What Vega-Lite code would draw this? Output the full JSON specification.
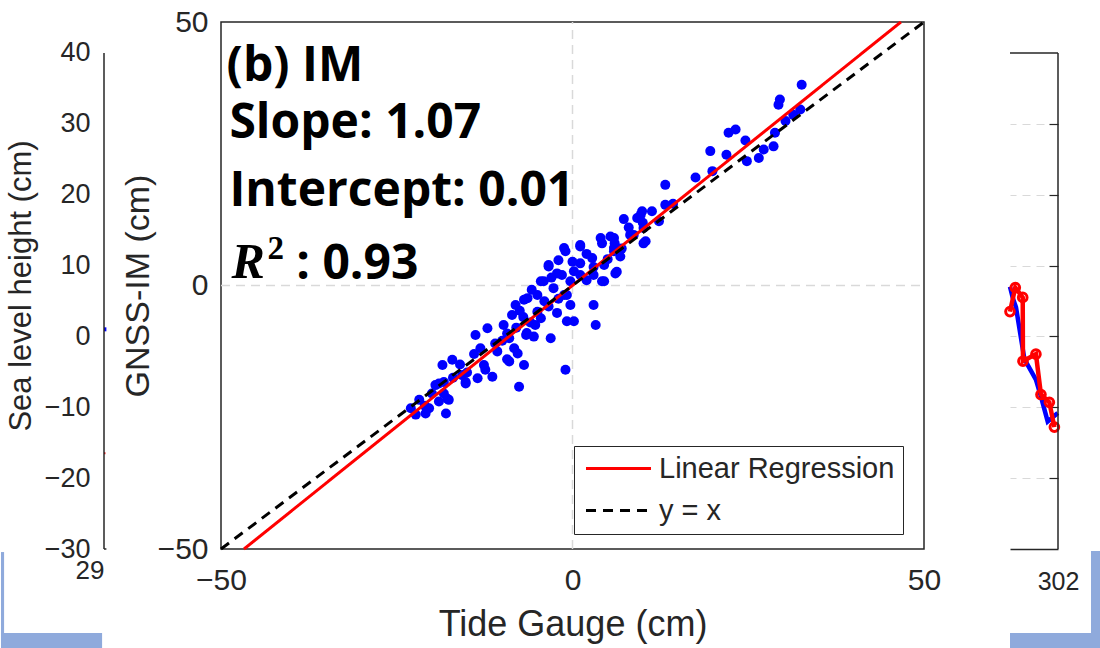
{
  "$schema": "https://vega.github.io/schema/vega-lite/v6.json",
  "background": "white",
  "padding": {"left": 0, "top": 6, "right": 0, "bottom": 0},
  "bounds": "flush",
  "spacing": 86,
  "config": {
    "view": {"stroke": null},
    "font": "Liberation Sans",
    "axis": {"labelFont": "Liberation Sans", "titleFont": "Liberation Sans", "labelColor": "#262626", "titleColor": "#262626", "titleFontWeight": "normal"}
  },
  "resolve": {"scale": {"x": "independent", "y": "independent", "color": "independent", "strokeDash": "independent"}},
  "hconcat": [
    {
      "width": 31,
      "height": 527,
      "data": {"values": [{}]},
      "layer": [
        {
          "data": {"values": [{"day": 298, "h": 1.0}, {"day": 298.01, "h": 1.0}]},
          "mark": {"type": "line", "color": "#0000ff", "strokeWidth": 4},
          "encoding": {
            "x": {"field": "day", "type": "quantitative", "scale": {"domain": [298, 298.13], "nice": false, "zero": false},
              "axis": {"values": [298], "labelExpr": "'29'", "labelAlign": "right", "labelFlush": false, "ticks": false, "domain": false, "grid": false, "labelFontSize": 26, "labelPadding": 8, "title": null}},
            "y": {"field": "h", "type": "quantitative", "scale": {"domain": [-30, 44.37], "nice": false, "zero": false},
              "axis": {"values": [-30, -20, -10, 0, 10, 20, 30, 40], "labelFontSize": 27, "labelPadding": 14, "ticks": false, "domain": false, "grid": false, "title": "Sea level height (cm)", "titleFontSize": 31, "titlePadding": 7}}
          }
        },
        {
          "data": {"values": [{"day": 298, "h": -16.5}, {"day": 298.006, "h": -16.5}]},
          "mark": {"type": "line", "color": "#ff0000", "strokeWidth": 2},
          "encoding": {"x": {"field": "day", "type": "quantitative"}, "y": {"field": "h", "type": "quantitative"}}
        },
        {
          "mark": {"type": "rule", "color": "#262626", "strokeWidth": 1.5},
          "encoding": {"x": {"datum": 298}, "y": {"datum": -30}, "y2": {"datum": 40}}
        },
        {
          "mark": {"type": "rule", "color": "#262626", "strokeWidth": 1.5},
          "encoding": {"x": {"datum": 298}, "x2": {"datum": 298.01}, "y": {"datum": -30}}
        },
        {
          "mark": {"type": "rect", "color": "#8faadc"},
          "encoding": {"x": {"datum": 297.568}, "x2": {"datum": 297.581}, "y": {"datum": -30.43}, "y2": {"datum": -41.86}}
        },
        {
          "mark": {"type": "rect", "color": "#8faadc"},
          "encoding": {"x": {"datum": 297.568}, "x2": {"datum": 297.992}, "y": {"datum": -41.86}, "y2": {"datum": -44.12}}
        }
      ]
    },
    {
      "width": 703,
      "height": 527,
      "view": {"stroke": "#262626", "strokeWidth": 1.5},
      "data": {"values": [{}]},
      "layer": [
        {
          "mark": {"type": "rule", "color": "#d9d9d9", "strokeWidth": 1.5, "strokeDash": [9, 6]},
          "encoding": {
            "x": {"datum": 0, "type": "quantitative", "scale": {"domain": [-50, 50], "nice": false},
              "axis": {"values": [-50, 0, 50], "labelFontSize": 30, "labelPadding": 16, "labelFlush": false, "ticks": false, "domain": false, "grid": false, "title": "Tide Gauge (cm)", "titleFontSize": 36, "titlePadding": 12}},
            "y": {"datum": -50, "type": "quantitative", "scale": {"domain": [-50, 50], "nice": false},
              "axis": {"values": [-50, 0, 50], "labelFontSize": 30, "labelPadding": 13, "ticks": false, "domain": false, "grid": false, "title": "GNSS-IM (cm)", "titleFontSize": 34, "titlePadding": 2}},
            "y2": {"datum": 50}
          }
        },
        {
          "mark": {"type": "rule", "color": "#d9d9d9", "strokeWidth": 1.5, "strokeDash": [9, 6]},
          "encoding": {"x": {"datum": -50}, "x2": {"datum": 50}, "y": {"datum": 0}}
        },
        {
          "data": {"values": [
            {"tg": 32.6, "im": 38.1}, {"tg": 29.5, "im": 35.3}, {"tg": 29.3, "im": 34.3}, {"tg": 32.4, "im": 33.4}, {"tg": 31.4, "im": 32.4},
            {"tg": 30.3, "im": 31.2}, {"tg": 28.8, "im": 29.0}, {"tg": 28.6, "im": 26.4}, {"tg": 27.2, "im": 25.8}, {"tg": 26.5, "im": 24.2},
            {"tg": 24.8, "im": 23.6}, {"tg": 24.6, "im": 27.5}, {"tg": 23.2, "im": 29.6}, {"tg": 22.2, "im": 29.0}, {"tg": 19.6, "im": 25.5},
            {"tg": 21.9, "im": 24.8}, {"tg": 19.9, "im": 21.7}, {"tg": 17.5, "im": 20.5}, {"tg": 13.2, "im": 19.1}, {"tg": 13.2, "im": 15.3},
            {"tg": 14.3, "im": 15.5}, {"tg": 9.9, "im": 14.1}, {"tg": 11.3, "im": 14.1}, {"tg": 9.2, "im": 12.8}, {"tg": 12.3, "im": 12.2},
            {"tg": 9.7, "im": 13.4}, {"tg": 7.3, "im": 12.6}, {"tg": 10.1, "im": 10.9}, {"tg": 8.7, "im": 9.6}, {"tg": 10.1, "im": 8.0},
            {"tg": 10.4, "im": 8.4}, {"tg": 10.0, "im": 11.9}, {"tg": 8.2, "im": 9.6}, {"tg": 5.4, "im": 9.3}, {"tg": 4.2, "im": 8.0},
            {"tg": 5.9, "im": 7.1}, {"tg": 5.9, "im": 9.0}, {"tg": 4.0, "im": 9.0}, {"tg": 6.8, "im": 5.5}, {"tg": 5.9, "im": 6.5},
            {"tg": 6.1, "im": 2.3}, {"tg": 6.3, "im": 2.6}, {"tg": 4.5, "im": 3.9}, {"tg": 4.2, "im": 0.8}, {"tg": 4.5, "im": 0.8},
            {"tg": 3.0, "im": 2.0}, {"tg": 2.8, "im": 5.2}, {"tg": 1.1, "im": 7.4}, {"tg": 1.1, "im": 7.7}, {"tg": -1.0, "im": 6.5},
            {"tg": -1.2, "im": 7.1}, {"tg": 1.1, "im": 4.2}, {"tg": 0.2, "im": 2.7}, {"tg": 1.1, "im": 2.0}, {"tg": -1.5, "im": 2.0},
            {"tg": -0.3, "im": 0.8}, {"tg": -2.2, "im": 2.3}, {"tg": -3.4, "im": 3.9}, {"tg": -3.4, "im": 3.6}, {"tg": -4.1, "im": 0.8},
            {"tg": -4.5, "im": 0.8}, {"tg": -2.7, "im": -0.5}, {"tg": -5.0, "im": -1.8}, {"tg": -6.4, "im": -2.4}, {"tg": -0.8, "im": -1.8},
            {"tg": -1.2, "im": -1.8}, {"tg": -0.3, "im": -3.7}, {"tg": -3.4, "im": -4.0}, {"tg": 3.0, "im": -3.7}, {"tg": 3.3, "im": -7.5},
            {"tg": -0.8, "im": -6.8}, {"tg": 0.2, "im": -6.8}, {"tg": -8.1, "im": -3.7}, {"tg": -6.9, "im": -2.7}, {"tg": -8.6, "im": -5.6},
            {"tg": -5.3, "im": -7.5}, {"tg": -3.1, "im": -10.0}, {"tg": -6.6, "im": -9.4}, {"tg": -6.5, "im": -9.0}, {"tg": -9.8, "im": -7.5},
            {"tg": -9.3, "im": -9.1}, {"tg": -5.5, "im": -9.7}, {"tg": -13.8, "im": -9.4}, {"tg": -12.1, "im": -8.1}, {"tg": -8.3, "im": -11.9},
            {"tg": -7.8, "im": -12.9}, {"tg": -10.7, "im": -12.5}, {"tg": -9.0, "im": -14.4}, {"tg": -9.3, "im": -14.0}, {"tg": -6.9, "im": -15.1},
            {"tg": -1.0, "im": -16.0}, {"tg": -7.6, "im": -19.2}, {"tg": -13.1, "im": -11.9}, {"tg": -12.6, "im": -15.1}, {"tg": -12.4, "im": -16.0},
            {"tg": -11.4, "im": -17.3}, {"tg": -13.5, "im": -17.6}, {"tg": -15.7, "im": -17.0}, {"tg": -15.2, "im": -18.3}, {"tg": -17.1, "im": -14.1},
            {"tg": -18.5, "im": -15.1}, {"tg": -15.2, "im": -18.6}, {"tg": -19.5, "im": -18.9}, {"tg": -19.0, "im": -18.6}, {"tg": -18.3, "im": -18.3},
            {"tg": -18.3, "im": -20.5}, {"tg": -17.6, "im": -21.7}, {"tg": -17.8, "im": -21.5}, {"tg": -21.8, "im": -21.7}, {"tg": -20.4, "im": -23.3},
            {"tg": -23.0, "im": -23.3}, {"tg": -20.9, "im": -24.3}, {"tg": -18.0, "im": -24.3}, {"tg": -22.3, "im": -24.5},
            {"tg": -7.0, "im": -6.0}, {"tg": -5.0, "im": -5.0}, {"tg": -4.0, "im": -3.0}, {"tg": -2.0, "im": -2.5}, {"tg": -10.0, "im": -10.5},
            {"tg": -11.0, "im": -11.0}, {"tg": -9.0, "im": -10.0}, {"tg": -8.0, "im": -8.0}, {"tg": -6.0, "im": -7.0}, {"tg": -14.0, "im": -13.0},
            {"tg": -16.0, "im": -15.0}, {"tg": -15.0, "im": -16.5}, {"tg": -17.0, "im": -17.5}, {"tg": -20.0, "im": -20.5}, {"tg": -19.0, "im": -22.0},
            {"tg": -21.0, "im": -22.8}, {"tg": 2.0, "im": 1.0}, {"tg": 3.0, "im": 3.5}, {"tg": 5.0, "im": 5.0}, {"tg": 6.0, "im": 8.0},
            {"tg": 7.0, "im": 7.0}, {"tg": 8.0, "im": 11.0}, {"tg": 2.0, "im": 6.0}, {"tg": 0.0, "im": 4.5}, {"tg": -2.0, "im": 4.8},
            {"tg": -3.0, "im": 1.5}, {"tg": -5.8, "im": -0.8}, {"tg": -7.5, "im": -4.8}, {"tg": -4.5, "im": -6.2}, {"tg": -2.2, "im": -5.2}
          ]},
          "mark": {"type": "circle", "color": "#0000ff", "size": 100, "opacity": 1},
          "encoding": {"x": {"field": "tg", "type": "quantitative"}, "y": {"field": "im", "type": "quantitative"}}
        },
        {
          "data": {"values": [
            {"series": "Linear Regression", "tg": -46.73, "im": -50},
            {"series": "Linear Regression", "tg": 46.72, "im": 50},
            {"series": "y = x", "tg": -50, "im": -50},
            {"series": "y = x", "tg": 50, "im": 50}
          ]},
          "mark": {"type": "line", "strokeWidth": 3},
          "encoding": {
            "x": {"field": "tg", "type": "quantitative"},
            "y": {"field": "im", "type": "quantitative"},
            "color": {"field": "series", "type": "nominal", "scale": {"domain": ["Linear Regression", "y = x"], "range": ["#ff0000", "#000000"]},
              "legend": {"orient": "none", "legendX": 353, "legendY": 424, "title": null, "symbolType": "M-5,0H5", "symbolSize": 169, "symbolStrokeWidth": 3,
                "labelFontSize": 29, "labelFont": "Liberation Sans", "labelColor": "#262626", "fillColor": "white", "strokeColor": "#262626",
                "padding": 8, "symbolOffset": 22, "rowPadding": 12, "labelLimit": 400, "labelOffset": 26}},
            "strokeDash": {"field": "series", "type": "nominal", "scale": {"domain": ["Linear Regression", "y = x"], "range": [[1, 0], [10, 7]]}}
          }
        },
        {
          "mark": {"type": "text", "text": "(b) IM", "font": "Open Sans", "fontWeight": "bold", "fontSize": 48, "align": "left", "baseline": "alphabetic", "color": "#000000"},
          "encoding": {"x": {"datum": -49.2}, "y": {"datum": 38.8}}
        },
        {
          "mark": {"type": "text", "text": "Slope: 1.07", "font": "Open Sans", "fontWeight": "bold", "fontSize": 48, "align": "left", "baseline": "alphabetic", "color": "#000000"},
          "encoding": {"x": {"datum": -48.8}, "y": {"datum": 28.0}}
        },
        {
          "mark": {"type": "text", "text": "Intercept: 0.01", "font": "Open Sans", "fontWeight": "bold", "fontSize": 48, "align": "left", "baseline": "alphabetic", "color": "#000000"},
          "encoding": {"x": {"datum": -48.8}, "y": {"datum": 15.0}}
        },
        {
          "mark": {"type": "text", "text": "R", "font": "Liberation Serif", "fontStyle": "italic", "fontWeight": "bold", "fontSize": 50, "align": "left", "baseline": "alphabetic", "color": "#000000"},
          "encoding": {"x": {"datum": -48.5}, "y": {"datum": 1.4}}
        },
        {
          "mark": {"type": "text", "text": "2", "font": "Liberation Serif", "fontWeight": "bold", "fontSize": 33, "align": "left", "baseline": "alphabetic", "color": "#000000"},
          "encoding": {"x": {"datum": -43.4}, "y": {"datum": 5.0}}
        },
        {
          "mark": {"type": "text", "text": ": 0.93", "font": "Open Sans", "fontWeight": "bold", "fontSize": 48, "align": "left", "baseline": "alphabetic", "color": "#000000"},
          "encoding": {"x": {"datum": -39.3}, "y": {"datum": 1.3}}
        }
      ]
    },
    {
      "width": 48,
      "height": 527,
      "data": {"values": [{}]},
      "layer": [
        {
          "data": {"values": [
            {"day": 301.8, "h": 7.0}, {"day": 301.811, "h": 5.5}, {"day": 301.825, "h": 4.1}, {"day": 301.86, "h": -3.2},
            {"day": 301.88, "h": -4.4}, {"day": 301.908, "h": -6.1}, {"day": 301.929, "h": -8.5}, {"day": 301.957, "h": -12.0}, {"day": 301.999, "h": -10.8}
          ]},
          "mark": {"type": "line", "color": "#0000ff", "strokeWidth": 4.5},
          "encoding": {
            "x": {"field": "day", "type": "quantitative", "scale": {"domain": [301.8, 302], "nice": false, "zero": false},
              "axis": {"values": [302], "format": "d", "labelFlush": false, "ticks": false, "domain": true, "domainColor": "#262626", "domainWidth": 1.5, "grid": false, "labelFontSize": 25, "labelPadding": 20, "title": null}},
            "y": {"field": "h", "type": "quantitative", "scale": {"domain": [-30, 44.37], "nice": false, "zero": false},
              "axis": {"orient": "right", "values": [-20, -10, 0, 10, 20, 30], "labels": false, "domain": false, "ticks": true, "tickSize": -9, "tickColor": "#262626", "tickWidth": 1.2,
                "grid": true, "gridDash": [8, 6], "gridColor": "#d9d9d9", "gridWidth": 1.2, "title": null}}
          }
        },
        {
          "data": {"values": [
            {"day": 301.8, "h": 3.5}, {"day": 301.822, "h": 6.9}, {"day": 301.853, "h": 5.5}, {"day": 301.854, "h": -3.5},
            {"day": 301.908, "h": -2.5}, {"day": 301.929, "h": -8.2}, {"day": 301.964, "h": -9.3}, {"day": 301.985, "h": -12.8}
          ]},
          "mark": {"type": "line", "color": "#ff0000", "strokeWidth": 4.5, "point": {"filled": false, "color": "#ff0000", "size": 75, "strokeWidth": 3}},
          "encoding": {"x": {"field": "day", "type": "quantitative"}, "y": {"field": "h", "type": "quantitative"}}
        },
        {
          "mark": {"type": "rule", "color": "#262626", "strokeWidth": 1.5},
          "encoding": {"x": {"datum": 301.8}, "x2": {"datum": 302}, "y": {"datum": 40}}
        },
        {
          "mark": {"type": "rule", "color": "#262626", "strokeWidth": 1.5},
          "encoding": {"x": {"datum": 302}, "y": {"datum": -30}, "y2": {"datum": 40}}
        },
        {
          "mark": {"type": "rect", "color": "#8faadc"},
          "encoding": {"x": {"datum": 302.1375}, "x2": {"datum": 302.179}, "y": {"datum": -30.28}, "y2": {"datum": -41.86}}
        },
        {
          "mark": {"type": "rect", "color": "#8faadc"},
          "encoding": {"x": {"datum": 301.8}, "x2": {"datum": 302.179}, "y": {"datum": -41.86}, "y2": {"datum": -44.12}}
        }
      ]
    }
  ]
}
